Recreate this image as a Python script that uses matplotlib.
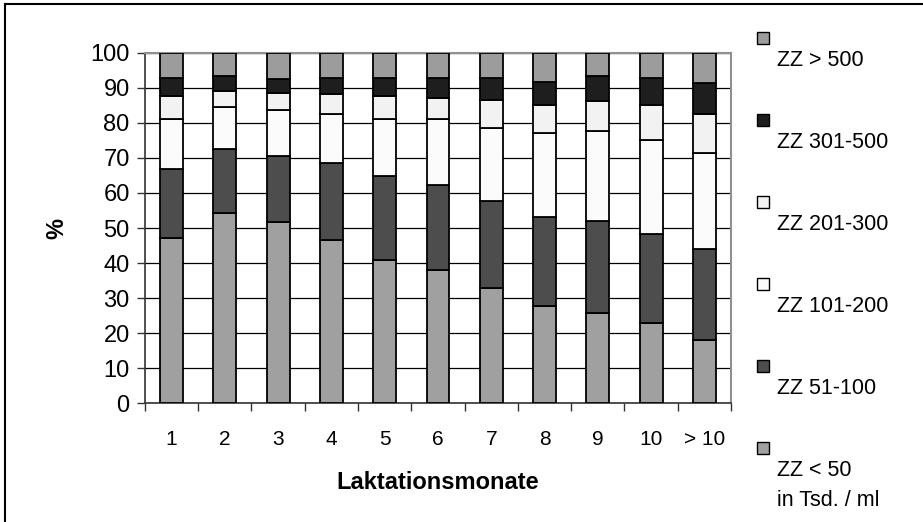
import numpy as np
import matplotlib.pyplot as plt
from matplotlib.patches import Rectangle
from matplotlib.lines import Line2D

plt.rcParams['font.family'] = ['Liberation Sans', 'DejaVu Sans']

months = ['1', '2', '3', '4', '5', '6', '7', '8', '9', '10', '> 10']

# Anteile je Zellzahlklasse in % (von unten nach oben)
zz_lt50 = [47.1, 54.2, 51.6, 46.5, 40.9, 37.9, 32.8, 27.8, 25.7, 23.0, 18.1]
zz_51_100 = [19.8, 18.3, 18.8, 22.0, 23.9, 24.5, 24.8, 25.4, 26.4, 25.2, 25.9]
zz_101_200 = [14.2, 12.1, 13.3, 14.1, 16.3, 18.7, 21.0, 23.8, 25.6, 26.9, 27.5]
zz_201_300 = [6.6, 4.5, 4.9, 5.6, 6.5, 6.1, 8.0, 8.1, 8.5, 10.0, 11.0]
zz_301_500 = [5.2, 4.3, 3.8, 4.7, 5.3, 5.7, 6.3, 6.6, 7.2, 7.8, 8.8]
zz_gt500 = [7.1, 6.6, 7.6, 7.1, 7.1, 7.1, 7.1, 8.3, 6.6, 7.1, 8.7]

series = [
    ('ZZ < 50', zz_lt50, '#a0a0a0'),
    ('ZZ 51-100', zz_51_100, '#4d4d4d'),
    ('ZZ 101-200', zz_101_200, '#fbfbfb'),
    ('ZZ 201-300', zz_201_300, '#f2f2f2'),
    ('ZZ 301-500', zz_301_500, '#1e1e1e'),
    ('ZZ > 500', zz_gt500, '#9c9c9c'),
]
unit = 'in Tsd. / ml'

fig = plt.figure(figsize=(9.23, 5.22), dpi=100)
ax = fig.add_axes([0.157, 0.2274, 0.635, 0.6716])

x = np.arange(len(months))
bottom = np.zeros(len(months))
for name, vals, col in series:
    ax.bar(x, vals, width=0.43, bottom=bottom, color=col,
           edgecolor='black', linewidth=1.3, zorder=3)
    bottom += np.array(vals)

ax.set_xlim(-0.5, len(months) - 0.5)
ax.set_ylim(0, 100)
ax.set_yticks(np.arange(0, 101, 10))
ax.yaxis.grid(True, color='black', linewidth=0.9, zorder=0)
ax.set_xticks(x)
ax.set_xticklabels(months, fontsize=15)
ax.set_xticks(np.arange(-0.5, len(months)), minor=True)
ax.tick_params(axis='x', which='major', length=0, pad=19)
ax.tick_params(axis='x', which='minor', length=6, width=1, color='#333333',
               direction='out')
ax.tick_params(axis='y', length=6, width=1, color='#333333', labelsize=17,
               pad=5)

for s in ['left', 'bottom']:
    ax.spines[s].set_color('#333333')
    ax.spines[s].set_linewidth(1.2)
for s in ['top', 'right']:
    ax.spines[s].set_color('#909090')
    ax.spines[s].set_linewidth(1.5)

ax.set_xlabel('Laktationsmonate', fontsize=17, fontweight='bold', labelpad=16)
ax.set_ylabel('%', fontsize=17, fontweight='bold', labelpad=16)

# Legende rechts: Kästchen mit Beschriftung darunter
for i, (name, vals, col) in enumerate(reversed(series)):
    ytop = 1 - (32 + i * 82) / 522
    fig.add_artist(Rectangle((757 / 923, ytop - 12 / 522), 12 / 923, 12 / 522,
                             facecolor=col, edgecolor='black', linewidth=1,
                             transform=fig.transFigure))
    fig.text(777 / 923, ytop - 28 / 522, name, fontsize=15.5, va='center',
             ha='left')
fig.text(777 / 923, 1 - 500 / 522, unit, fontsize=15.5, va='center', ha='left')

# Rahmen oben und links
fig.add_artist(Line2D([5 / 923, 1], [1 - 4 / 522, 1 - 4 / 522],
                      color='black', linewidth=1.5, transform=fig.transFigure))
fig.add_artist(Line2D([5 / 923, 5 / 923], [0, 1 - 4 / 522],
                      color='black', linewidth=1.5, transform=fig.transFigure))

fig.savefig('out.png', dpi=100)
